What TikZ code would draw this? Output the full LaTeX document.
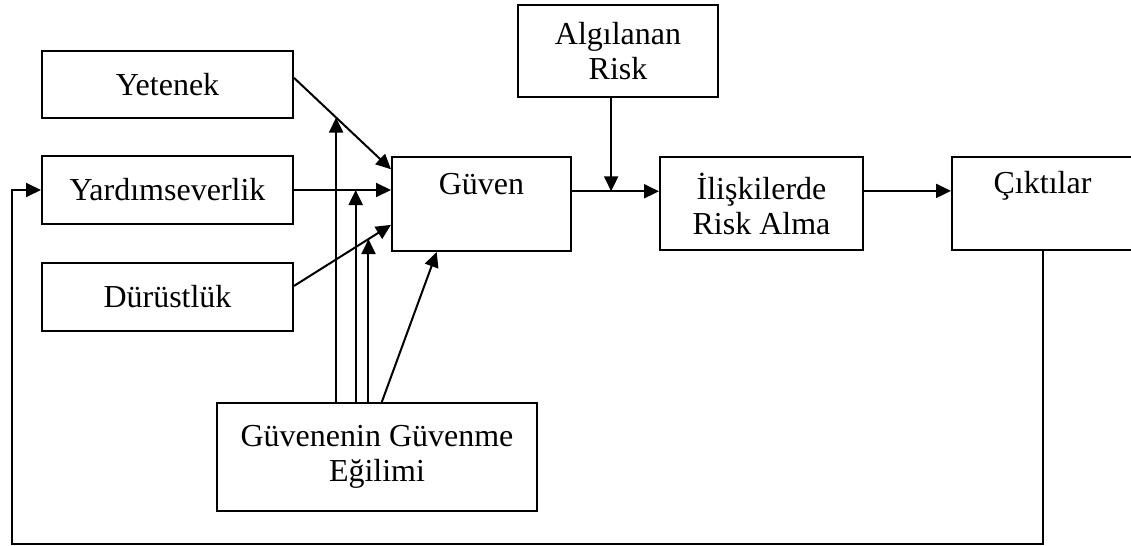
\documentclass[tikz,border=0pt]{standalone}
\usepackage{fontspec}
\setmainfont{Liberation Serif}
\usetikzlibrary{arrows.meta}

\begin{document}
\begin{tikzpicture}[
	x=0.5pt, y=-0.5pt,                          % 1 birim = 1 piksel, y aşağı doğru
	>={Triangle[length=7.5pt,width=7pt]},
	line width=1pt,
	kutu/.style={draw, inner sep=0pt, align=center, font=\fontsize{16}{17.5}\selectfont},
	ustyazi/.style={text height=11pt, text depth=21pt} % tek satırlık yazı kutunun üst yarısında
	]
	\useasboundingbox (0,0) rectangle (1131,546);

	% sol sütun
	\node[kutu, minimum width=125.5pt, minimum height=33.5pt] (yetenek) at (167.5,84.5) {Yetenek};
	\node[kutu, minimum width=125.5pt, minimum height=34pt] (yardim) at (167.5,190) {Yardımseverlik};
	\node[kutu, minimum width=125.5pt, minimum height=34pt] (durust) at (167.5,297) {Dürüstlük};

	% orta ve sağ
	\node[kutu, ustyazi, minimum width=89.5pt, minimum height=47pt] (guven) at (481.5,204) {Güven};
	\node[kutu, minimum width=100pt, minimum height=46pt] (risk) at (618,51) {Algılanan\\Risk};
	\node[kutu, minimum width=101.5pt, minimum height=46.5pt] (iliski) at (761.5,203.5) {İlişkilerde\\Risk Alma};
	\node[kutu, ustyazi, minimum width=90.5pt, minimum height=46.5pt] (cikti) at (1042.5,203.5) {Çıktılar};
	\node[kutu, minimum width=160pt, minimum height=54pt] (egilim) at (377,457) {Güvenenin Güvenme\\Eğilimi};

	% güvene giden oklar
	\draw[->] (yetenek.3) -- coordinate[pos=0.434] (k1) (guven.159);
	\draw[->] (yardim.east) -- coordinate[pos=0.636] (k2) (yardim.east -| guven.west);
	\draw[->] (durust.5) -- coordinate[pos=0.768] (k3) (guven.193);

	% eğilimden gelen oklar
	\draw[->] (k1 |- egilim.north) -- (k1);
	\draw[->] (k2 |- egilim.north) -- (k2);
	\draw[->] (k3 |- egilim.north) -- (k3);
	\draw[->] (egilim.85) -- (guven.227);

	\draw[->] (guven.8) -- coordinate[pos=0.45] (r) (guven.8 -| iliski.west);
	\draw[->] (r |- risk.south) -- (r);
	\draw[->] (iliski.7) -- (iliski.7 -| cikti.west);

	% geri besleme
	\coordinate (geri) at (12,544);
	\draw[->] (cikti.south) |- (geri) |- (yardim.west);
\end{tikzpicture}
\end{document}
